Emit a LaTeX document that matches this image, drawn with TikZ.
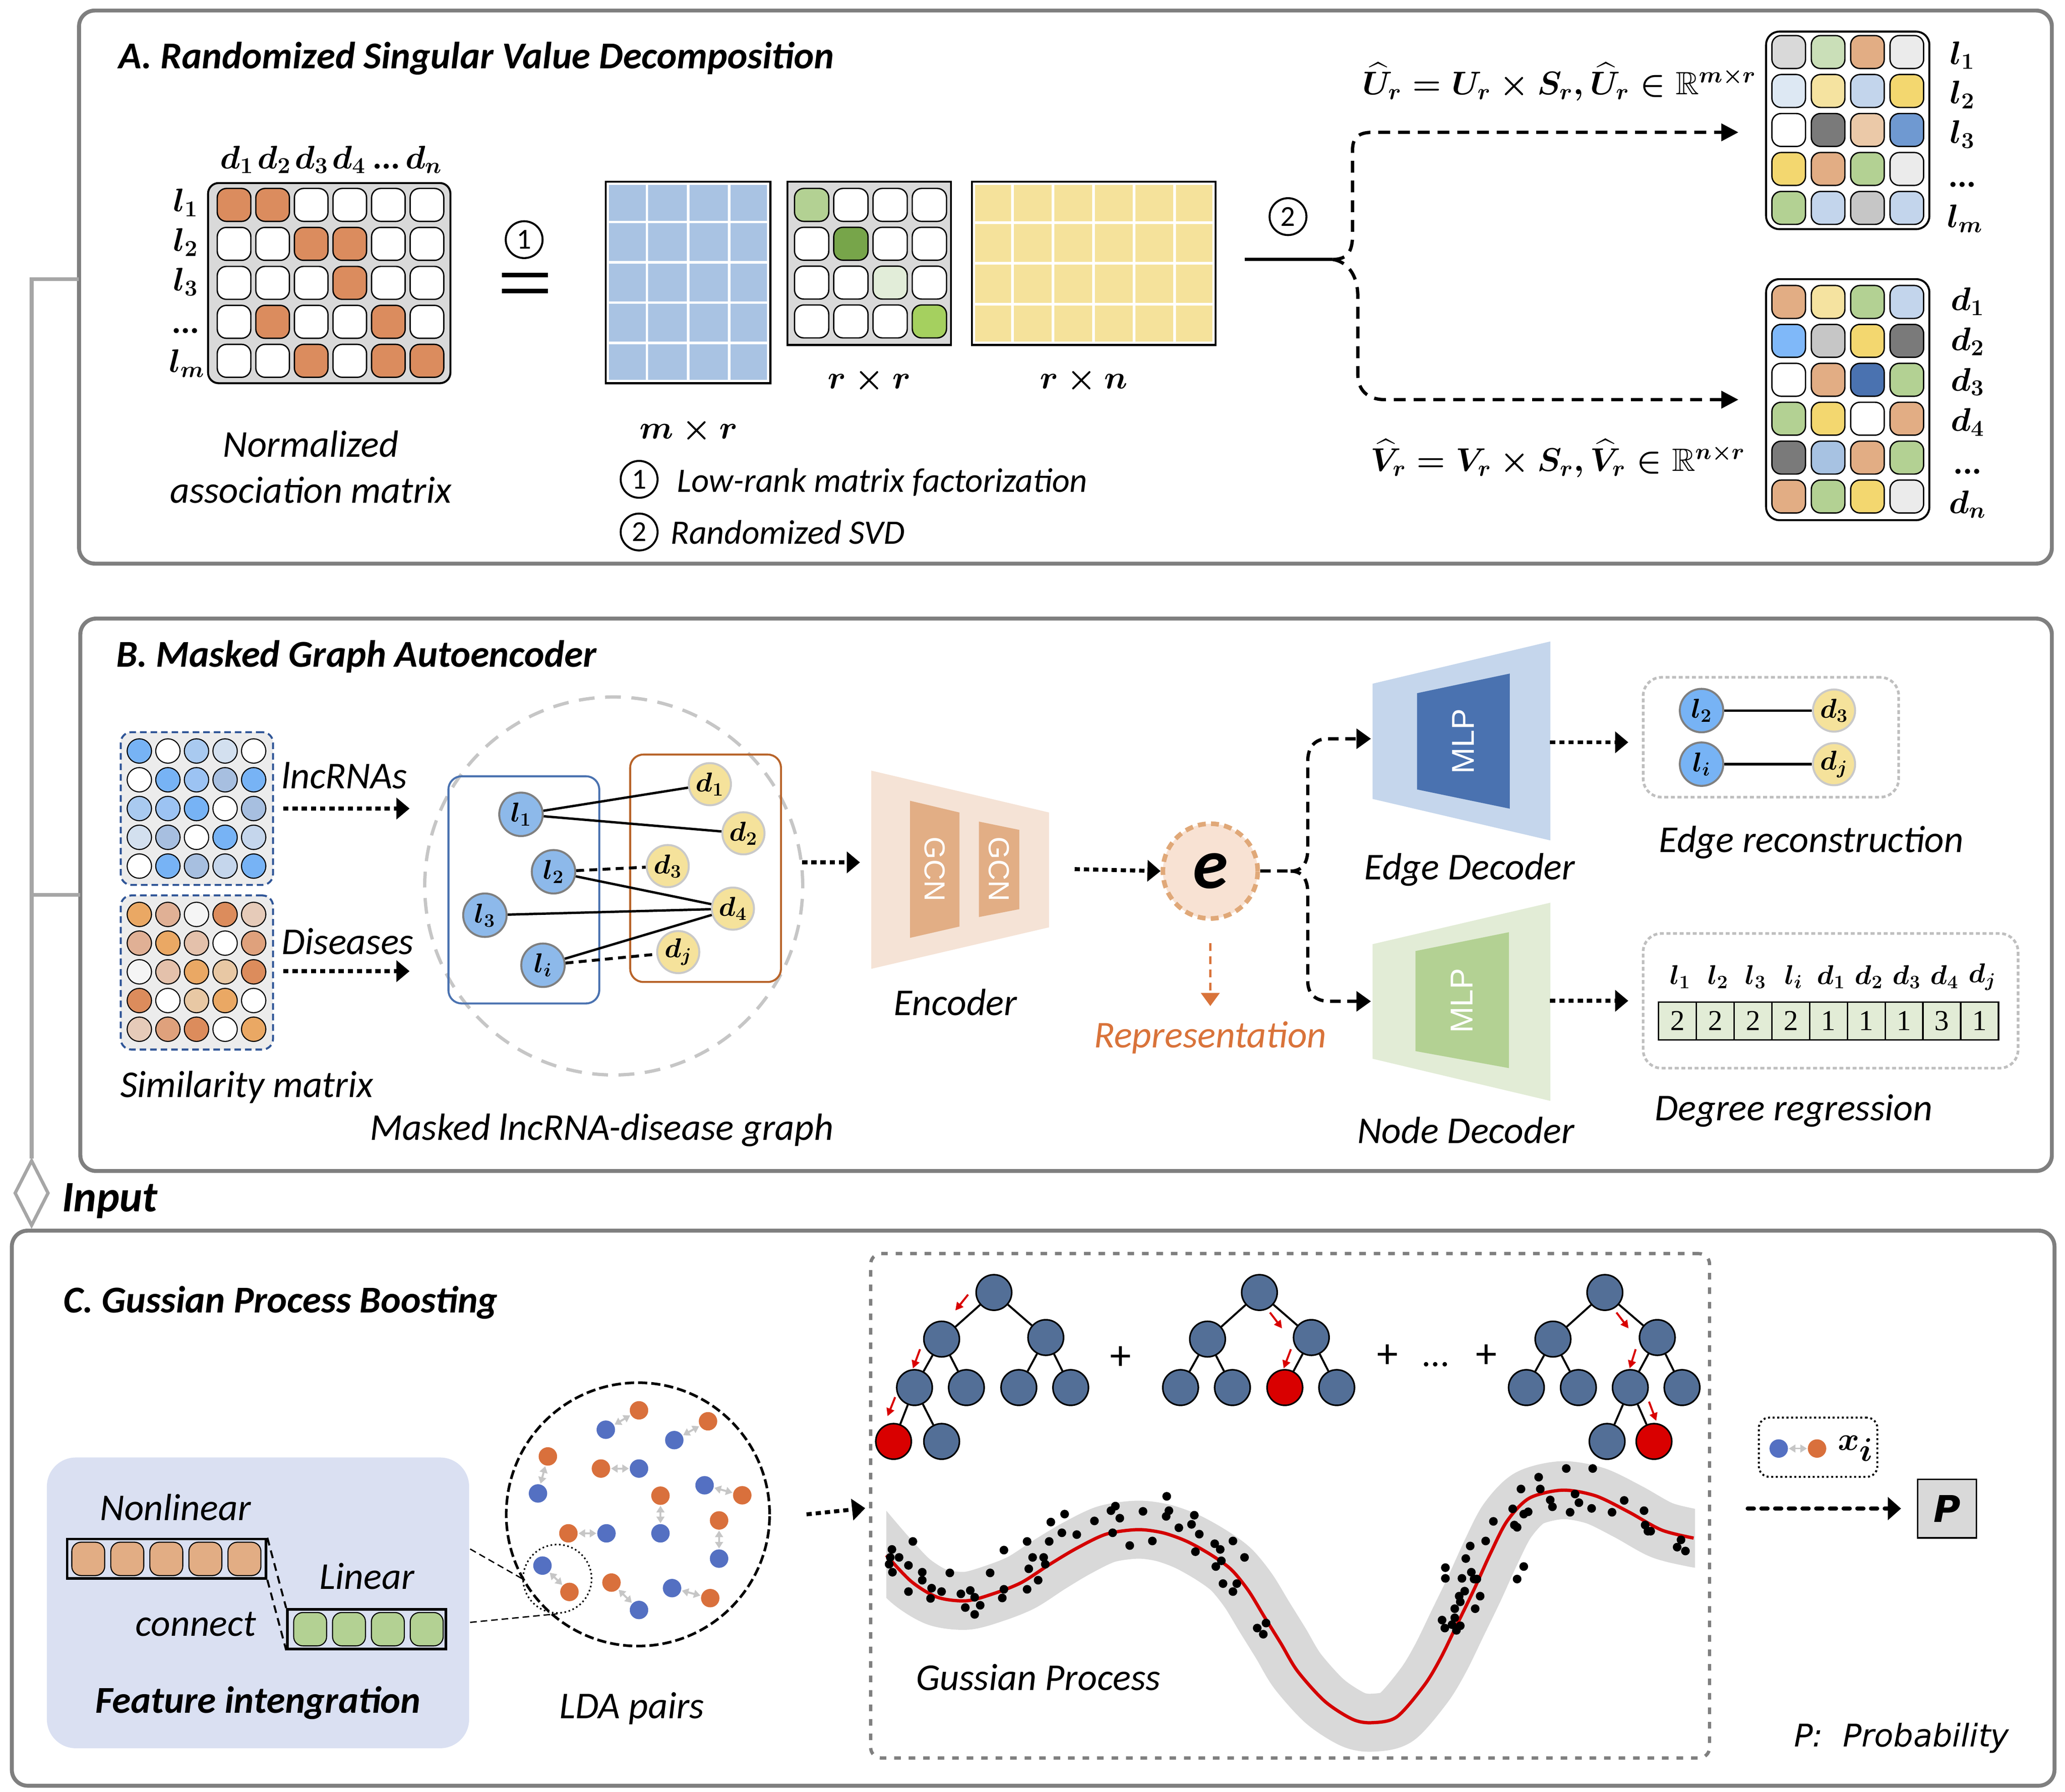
\documentclass[tikz,border=0pt]{standalone}
\usepackage{amsmath,amssymb}
\usepackage{fontspec}
\setmainfont{Carlito}
\newfontfamily\lsans{Liberation Sans}
\newfontfamily\lserif{Liberation Serif}
\newfontfamily\dvs{DejaVu Sans}
\usetikzlibrary{arrows.meta,shapes.geometric,calc}
\newcommand\myfs[1]{\fontsize{#1}{#1}\selectfont}
\newcommand\bdots{{\bfseries ...}}
\definecolor{pbord}{HTML}{7F7F7F}
\definecolor{conn}{HTML}{A6A6A6}
\definecolor{orA}{HTML}{DB8C5E}
\definecolor{bluU}{HTML}{A9C3E3}
\definecolor{yelV}{HTML}{F5E29B}
\definecolor{grS}{HTML}{D9D9D9}
\definecolor{sg1}{HTML}{B3D193}
\definecolor{sg2}{HTML}{77A54A}
\definecolor{sg3}{HTML}{E2EDD9}
\definecolor{sg4}{HTML}{A5D05F}
\definecolor{mLg}{HTML}{D9D9D9}
\definecolor{mGa}{HTML}{CADFB8}
\definecolor{mTan}{HTML}{E2AD84}
\definecolor{mVlg}{HTML}{EBEBEB}
\definecolor{mVlb}{HTML}{DDE8F3}
\definecolor{mLy}{HTML}{F5E3A0}
\definecolor{mLb}{HTML}{C3D5EC}
\definecolor{mYe}{HTML}{F3D76F}
\definecolor{mDg}{HTML}{7A7A7A}
\definecolor{mPe}{HTML}{EBC9A8}
\definecolor{mBl}{HTML}{6F99D1}
\definecolor{mGr}{HTML}{B3D193}
\definecolor{mGy}{HTML}{C6C6C6}
\definecolor{mBb}{HTML}{7FB8F9}
\definecolor{mDb}{HTML}{4A72B0}
\definecolor{mSb}{HTML}{A7C2E2}
\definecolor{sBa}{HTML}{77B3F5}
\definecolor{sBb}{HTML}{A9CAF0}
\definecolor{sBc}{HTML}{D3E0EF}
\definecolor{sBd}{HTML}{9CC3F3}
\definecolor{sBe}{HTML}{A7BFE0}
\definecolor{sBf}{HTML}{C5D6EC}
\definecolor{sOa}{HTML}{EAA864}
\definecolor{sOb}{HTML}{E0B095}
\definecolor{sOc}{HTML}{F5F5F5}
\definecolor{sOd}{HTML}{DC8C5C}
\definecolor{sOe}{HTML}{E6CBB9}
\definecolor{sOf}{HTML}{E4C1AB}
\definecolor{sOg}{HTML}{DFA17C}
\definecolor{sOh}{HTML}{E8C8A4}
\definecolor{lnf}{HTML}{8DB9EA}
\definecolor{lnb}{HTML}{7F7F7F}
\definecolor{dnf}{HTML}{F5E29B}
\definecolor{dnb}{HTML}{C9C9C9}
\definecolor{simb}{HTML}{2F5597}
\definecolor{lboxc}{HTML}{4A72B0}
\definecolor{dboxc}{HTML}{B8642A}
\definecolor{encbg}{HTML}{F5E3D6}
\definecolor{gcnc}{HTML}{E2AE85}
\definecolor{edbg}{HTML}{C5D6EC}
\definecolor{edin}{HTML}{4A72B0}
\definecolor{ndbg}{HTML}{E2ECD6}
\definecolor{ndin}{HTML}{B3D193}
\definecolor{efill}{HTML}{F8E2D3}
\definecolor{ebord}{HTML}{E0A878}
\definecolor{repc}{HTML}{D9733A}
\definecolor{dgray}{HTML}{BFBFBF}
\definecolor{fboxc}{HTML}{DAE0F2}
\definecolor{pblue}{HTML}{5470C2}
\definecolor{porange}{HTML}{D9703C}
\definecolor{treec}{HTML}{536F97}
\definecolor{treer}{HTML}{D90000}
\definecolor{gpband}{HTML}{D9D9D9}
\definecolor{gpred}{HTML}{D40000}
\begin{document}
\begin{tikzpicture}[x=1pt,y=-1pt,
 panel/.style={draw=pbord,line width=3pt,rounded corners=12pt,inner sep=0,outer sep=0},
 lbl/.style={font=\myfs{28.8}\itshape,inner sep=0},
 leg/.style={font=\myfs{26}\itshape,inner sep=0,anchor=west},
 ttl/.style={font=\myfs{28.8}\bfseries\itshape,anchor=west,inner sep=0},
 mlab/.style={font=\myfs{26}\boldmath,inner sep=0},
 acell/.style={draw=black,line width=1pt,rounded corners=7pt,minimum width=25.5pt,minimum height=25pt,inner sep=0},
 circnum/.style={circle,draw=black,line width=1.5pt,minimum size=28pt,inner sep=0,font=\myfs{22}},
 scell/.style={circle,draw=black,line width=0.8pt,minimum size=18.5pt,inner sep=0},
 lnode/.style={circle,draw=lnb,fill=lnf,line width=1.5pt,minimum size=33pt,inner sep=0,font=\myfs{21}\boldmath},
 dnode/.style={circle,draw=dnb,fill=dnf,line width=1.5pt,minimum size=32pt,inner sep=0,font=\myfs{21}\boldmath},
 tnode/.style={circle,draw=black,line width=1.2pt,fill=treec,minimum size=27pt,inner sep=0},
 rnode/.style={tnode,fill=treer},
 bdot/.style={circle,fill=pblue,minimum size=14pt,inner sep=0},
 odot/.style={circle,fill=porange,minimum size=14pt,inner sep=0},
 dotarr/.style={line width=3pt,dash pattern=on 4pt off 3pt,-{Triangle[length=10pt,width=16pt]}},
 dasharr/.style={line width=2.5pt,dash pattern=on 9pt off 6pt,-{Triangle[length=13pt,width=13pt]}},
 edarr/.style={line width=2.5pt,dash pattern=on 8pt off 5pt,-{Triangle[length=11pt,width=15pt]}},
 edgeln/.style={line width=1.8pt},
 edgedash/.style={line width=2.2pt,dash pattern=on 6pt off 4pt},
 dbox/.style={draw=dgray,dash pattern=on 3pt off 2pt,line width=2pt,rounded corners=14pt,inner sep=0},
 dcell/.style={draw=black,line width=1.2pt,fill=ndbg,minimum width=28.68pt,minimum height=28.6pt,inner sep=0,font=\lserif\myfs{22}},
 fcell/.style={draw=black,line width=0.8pt,rounded corners=7pt,minimum width=25pt,minimum height=25.3pt,inner sep=0},
 redarr/.style={draw=treer,line width=1.5pt,-{Triangle[length=6pt,width=6pt]}},
 pairarr/.style={draw=gray!45,line width=1.5pt,{Triangle[length=5pt,width=6pt]}-{Triangle[length=5pt,width=6pt]},shorten <=0.5pt,shorten >=0.5pt},
 gtxt/.style={text=white,font=\lsans\myfs{22},inner sep=0}
]
\useasboundingbox (0,0) rectangle (1568,1360.8);

% ---------- panels ----------
\node[panel,minimum width=1498pt,minimum height=420pt] (pA) at (809,218) {};
\node[panel,minimum width=1497pt,minimum height=419.5pt] (pB) at (809.5,679.5) {};
\node[panel,minimum width=1551pt,minimum height=421.5pt] (pC) at (784.5,1145.3) {};

% ---------- left connector ----------
\node[diamond,draw=conn,fill=white,line width=2.5pt,minimum width=26pt,minimum height=50pt,inner sep=0] (diam) at (24,906) {};
\coordinate (jA) at (60,212);
\draw[conn,line width=3pt] (jA) -| (diam.north);
\draw[conn,line width=3pt] (pB.west) -- (pB.west -| diam.north);
\node[font=\myfs{33}\bfseries\itshape,anchor=west,inner sep=0] (inp) at (47,912) {Input};

% ================= PANEL A =================
\node[ttl] (tA) at (90,44.5) {A. Randomized Singular Value Decomposition};

\node[draw=black,line width=1.5pt,fill=grS,rounded corners=8pt,minimum width=184pt,minimum height=152pt,inner sep=0] (assoc) at (250,215) {};
\foreach \cols [count=\r] in {{orA,orA,white,white,white,white},{white,white,orA,orA,white,white},{white,white,white,orA,white,white},{white,orA,white,white,orA,white},{white,white,orA,white,orA,orA}}
  \foreach \col [count=\c] in \cols
    \node[acell,fill=\col] (a-\r-\c) at ({177.7+29.3*(\c-1)},{155.6+29.6*(\r-1)}) {};
\node[mlab,anchor=base] (acl1) at (179.8,128) {$d_1$};
\node[mlab,anchor=base] (acl2) at (208.2,128) {$d_2$};
\node[mlab,anchor=base] (acl3) at (236.6,128) {$d_3$};
\node[mlab,anchor=base] (acl4) at (265,128) {$d_4$};
\node[mlab,anchor=base] (acl5) at (293.4,128) {\bdots};
\node[mlab,anchor=base] (acl6) at (321.8,128) {$d_n$};
\node[mlab] (arl1) at (141,154) {$l_1$};
\node[mlab] (arl2) at (141,184) {$l_2$};
\node[mlab] (arl3) at (141,214) {$l_3$};
\node[mlab,anchor=base] (arl4) at (141,253) {\bdots};
\node[mlab] (arl5) at (142,276) {$l_m$};
\node[lbl,align=center,font=\fontsize{28.8}{35}\selectfont\itshape] (assoclab) at (236,354.5) {Normalized\\association matrix};

\node[circnum] (c1) at (398,182) {1};
\draw[line width=3.5pt] (381,209) -- (416,209);
\draw[line width=3.5pt] (381,221) -- (416,221);

% U matrix
\node[draw=black,line width=1.5pt,fill=white,minimum width=125pt,minimum height=153pt,inner sep=0] (Umat) at (522.5,214.5) {};
\fill[bluU] (462.5,140.5) rectangle (582.5,288.5);
\foreach \k in {1,2,3} \draw[white,line width=2pt] ({460+31.25*\k},140) -- ({460+31.25*\k},289);
\foreach \k in {1,...,4} \draw[white,line width=2pt] (462,{138+30.6*\k}) -- (583,{138+30.6*\k});
\node[mlab] (lmr) at (523,327) {$m\times r$};

% S matrix
\node[draw=black,line width=1.5pt,fill=grS,minimum width=124pt,minimum height=124pt,inner sep=0] (Smat) at (660,200) {};
\foreach \cols [count=\r] in {{sg1,white,white,white},{white,sg2,white,white},{white,white,sg3,white},{white,white,white,sg4}}
  \foreach \col [count=\c] in \cols
    \node[acell,fill=\col,minimum width=26pt] (s-\r-\c) at ({616.3+29.8*(\c-1)},{155.6+29.5*(\r-1)}) {};
\node[mlab] (lrr) at (660,289) {$r\times r$};

% V matrix
\node[draw=black,line width=1.5pt,fill=white,minimum width=185pt,minimum height=124pt,inner sep=0] (Vmat) at (830.5,200) {};
\fill[yelV] (740.5,140.5) rectangle (920.5,259.5);
\foreach \k in {1,...,5} \draw[white,line width=2pt] ({738+30.8*\k},140) -- ({738+30.8*\k},260);
\foreach \k in {1,2,3} \draw[white,line width=2pt] (740,{138+31*\k}) -- (921,{138+31*\k});
\node[mlab] (lrn) at (823,289) {$r\times n$};

% legend
\node[circnum] (lg1) at (485.3,364) {1};
\node[leg] (lgt1) at (514,366) {Low-rank matrix factorization};
\node[circnum] (lg2) at (485.3,404) {2};
\node[leg] (lgt2) at (509,404) {Randomized SVD};

% randomized svd branch
\node[circnum] (c2) at (978,164.5) {2};
\coordinate (sA0) at (945,197);
\coordinate (splitA) at (1012,197);
\coordinate (tU) at (1320,100.5);
\coordinate (tV) at (1320,303.5);
\draw[line width=2.5pt] (sA0) -- (splitA);
\draw[dasharr] (splitA) .. controls (1024,197) and (1027,190) .. (1027,178) -- (1027,114) .. controls (1027,105) and (1031,100.5) .. (1042,100.5) -- (tU);
\draw[dasharr] (splitA) .. controls (1024,199) and (1031,210) .. (1031,225) -- (1031,284) .. controls (1031,296) and (1038,303.5) .. (1052,303.5) -- (tV);

\node[mlab,font=\myfs{24.5}\boldmath] (fU) at (1184,62) {$\widehat{U}_r=U_r\times S_r,\widehat{U}_r\in\mathbb{R}^{m\times r}$};
\node[mlab,font=\myfs{24.5}\boldmath] (fV) at (1183,348) {$\widehat{V}_r=V_r\times S_r,\widehat{V}_r\in\mathbb{R}^{n\times r}$};

\node[draw=black,line width=1.5pt,fill=white,rounded corners=10pt,minimum width=124pt,minimum height=150pt,inner sep=0] (Ur) at (1403,99) {};
\foreach \cols [count=\r] in {{mLg,mGa,mTan,mVlg},{mVlb,mLy,mLb,mYe},{white,mDg,mPe,mBl},{mYe,mTan,mGr,mVlg},{mGr,mLb,mGy,mLb}}
  \foreach \col [count=\c] in \cols
    \node[acell,fill=\col] (u-\r-\c) at ({1358.2+29.9*(\c-1)},{39.5+29.6*(\r-1)}) {};
\node[mlab] (url1) at (1490,42) {$l_1$};
\node[mlab] (url2) at (1490,72) {$l_2$};
\node[mlab] (url3) at (1490,102) {$l_3$};
\node[mlab,anchor=base] (url4) at (1490,142) {\bdots};
\node[mlab] (url5) at (1492,166) {$l_m$};

\node[draw=black,line width=1.5pt,fill=white,rounded corners=10pt,minimum width=124pt,minimum height=183pt,inner sep=0] (Vr) at (1403,303.5) {};
\foreach \cols [count=\r] in {{mTan,mLy,mGr,mLb},{mBb,mGy,mYe,mDg},{white,mTan,mDb,mGr},{mGr,mYe,white,mTan},{mDg,mSb,mTan,mGr},{mTan,mGr,mYe,mVlg}}
  \foreach \col [count=\c] in \cols
    \node[acell,fill=\col] (v-\r-\c) at ({1358.2+29.9*(\c-1)},{229.3+29.55*(\r-1)}) {};
\node[mlab] (vrl1) at (1494,229) {$d_1$};
\node[mlab] (vrl2) at (1494,259.5) {$d_2$};
\node[mlab] (vrl3) at (1494,290) {$d_3$};
\node[mlab] (vrl4) at (1494,320.5) {$d_4$};
\node[mlab,anchor=base] (vrl5) at (1494,360) {\bdots};
\node[mlab] (vrl6) at (1494,383) {$d_n$};

% ================= PANEL B =================
\node[ttl] (tB) at (88,498.6) {B. Masked Graph Autoencoder};

\node[draw=simb,dash pattern=on 5pt off 3pt,line width=1.5pt,fill=gray!15,rounded corners=8pt,minimum width=115.6pt,minimum height=116pt,inner sep=0] (simL) at (149.5,614) {};
\foreach \cols [count=\r] in {{sBa,white,sBb,sBc,white},{white,sBa,sBd,sBe,sBa},{sBb,sBd,sBa,white,sBe},{sBc,sBe,white,sBa,sBf},{white,sBa,sBe,sBf,sBa}}
  \foreach \col [count=\c] in \cols
    \node[scell,fill=\col] (sl-\r-\c) at ({105.8+21.7*(\c-1)},{570.3+21.85*(\r-1)}) {};
\node[draw=simb,dash pattern=on 5pt off 3pt,line width=1.5pt,fill=gray!15,rounded corners=8pt,minimum width=115.6pt,minimum height=117pt,inner sep=0] (simD) at (149.5,738.5) {};
\foreach \cols [count=\r] in {{sOa,sOb,sOc,sOd,sOe},{sOb,sOa,sOf,white,sOg},{sOc,sOf,sOa,sOh,sOd},{sOd,white,sOh,sOa,white},{sOe,sOg,sOd,white,sOa}}
  \foreach \col [count=\c] in \cols
    \node[scell,fill=\col] (sd-\r-\c) at ({105.8+21.7*(\c-1)},{694.4+21.8*(\r-1)}) {};
\node[lbl] (tlnc) at (261.5,589) {lncRNAs};
\node[lbl] (tdis) at (264,715) {Diseases};
\coordinate (aL) at (311,614);
\coordinate (aD) at (311,737.5);
\draw[dotarr] ([xshift=7pt]simL.east) -- (aL);
\draw[dotarr] ([xshift=7pt]simD.east |- aD) -- (aD);
\node[lbl] (tsim) at (187.4,825.5) {Similarity matrix};

% graph
\node[circle,draw=gray!45,dash pattern=on 12pt off 8pt,line width=2.5pt,minimum size=287pt,inner sep=0] (gcirc) at (466,672.8) {};
\node[draw=lboxc,line width=1.5pt,rounded corners=10pt,minimum width=114.5pt,minimum height=172.5pt,inner sep=0] (lbox) at (397.75,675.75) {};
\node[draw=dboxc,line width=1.5pt,rounded corners=10pt,minimum width=114.5pt,minimum height=172.7pt,inner sep=0] (dbx) at (535.75,659.35) {};
\node[lnode] (l1) at (395.6,618.4) {$l_1$};
\node[lnode] (l2) at (420.3,662) {$l_2$};
\node[lnode] (l3) at (368.2,695) {$l_3$};
\node[lnode] (li) at (412.3,733) {$l_i$};
\node[dnode] (d1) at (539,595.5) {$d_1$};
\node[dnode] (d2) at (564.5,632.8) {$d_2$};
\node[dnode] (d3) at (507,657.7) {$d_3$};
\node[dnode] (d4) at (556.5,690) {$d_4$};
\node[dnode] (dj) at (515,723) {$d_j$};
\draw[edgeln] (l1) -- (d1);
\draw[edgeln] (l1) -- (d2);
\draw[edgedash] (l2) -- (d3);
\draw[edgeln] (l2) -- (d4);
\draw[edgeln] (l3) -- (d4);
\draw[edgeln] (li) -- (d4);
\draw[edgedash] (li) -- (dj);
\node[lbl] (tgraph) at (457,858.4) {Masked lncRNA-disease graph};
\coordinate (gA0) at (609,654.9);
\coordinate (gA1) at (653,654.9);
\draw[dotarr] (gA0) -- (gA1);

% encoder
\fill[encbg] (661.6,585.2) -- (796.6,617) -- (796.6,704.2) -- (661.6,735.7) -- cycle;
\fill[gcnc] (691,608.1) -- (728.5,617) -- (728.5,703.6) -- (691,712.2) -- cycle;
\fill[gcnc] (743.3,623.9) -- (774,630.2) -- (774,690.4) -- (743.3,696.4) -- cycle;
\node[gtxt,rotate=-90] (g1) at (709.7,660) {GCN};
\node[gtxt,rotate=-90] (g2) at (758.6,660) {GCN};
\node[lbl] (tenc) at (725.5,761) {Encoder};
\coordinate (eA0) at (816,660);
\node[circle,fill=efill,draw=ebord,dash pattern=on 6pt off 4pt,line width=3.5pt,minimum size=72pt,inner sep=0,font=\myfs{54}\bfseries\itshape] (e) at (919,661.5) {e};
\draw[dotarr] (eA0) -- (e.west);
\draw[draw=repc,line width=2pt,dash pattern=on 6pt off 4pt,-{Triangle[length=10pt,width=14pt]},repc] ($(e.south)+(0,17)$) -- (919,764);
\node[lbl,text=repc] (trep) at (919,788) {Representation};

% branches
\coordinate (eS) at (980,661.5);
\coordinate (eU) at (1041,561);
\coordinate (eN) at (1041,760.4);
\draw[line width=2.5pt,dash pattern=on 8pt off 5pt] (e.east) -- (eS);
\draw[edarr] (eS) .. controls (989,661.5) and (993,655) .. (993,645) -- (993,578) .. controls (993,568) and (998,561) .. (1008,561) -- (eU);
\draw[edarr] (eS) .. controls (989,661.5) and (993,668) .. (993,678) -- (993,745) .. controls (993,755) and (999,760.4) .. (1010,760.4) -- (eN);

% edge decoder
\fill[edbg] (1042.2,519.2) -- (1177.2,487.1) -- (1177.2,638.2) -- (1042.2,606.7) -- cycle;
\fill[edin] (1076,526.4) -- (1146.4,511.5) -- (1146.4,614.1) -- (1076,599.5) -- cycle;
\node[gtxt,rotate=90,font=\lsans\myfs{24}] (m1) at (1111,563) {MLP};
\node[lbl] (tedge) at (1116,660.6) {Edge Decoder};
% node decoder
\fill[ndbg] (1042.2,717) -- (1177.2,685.5) -- (1177.2,836) -- (1042.2,804) -- cycle;
\fill[ndin] (1074.8,722.2) -- (1145.8,707.9) -- (1145.8,811.1) -- (1074.8,798.2) -- cycle;
\node[gtxt,rotate=90,font=\lsans\myfs{24}] (m2) at (1110,760) {MLP};
\node[lbl] (tnode) at (1113,858.4) {Node Decoder};

\coordinate (oE0) at (1177,563.7);
\coordinate (oE1) at (1236.4,563.7);
\coordinate (oN0) at (1177,760);
\coordinate (oN1) at (1236.4,760);
\draw[dotarr] (oE0) -- (oE1);
\draw[dotarr] (oN0) -- (oN1);

% edge reconstruction
\node[dbox,minimum width=194pt,minimum height=91pt] (erbox) at (1344.7,559.85) {};
\node[lnode,fill=sBa] (el2) at (1292,539.6) {$l_2$};
\node[dnode] (ed3) at (1392.6,539.6) {$d_3$};
\node[lnode,fill=sBa] (eli) at (1292,580.3) {$l_i$};
\node[dnode] (edj) at (1392.6,580.3) {$d_j$};
\draw[edgeln] (el2) -- (ed3);
\draw[edgeln] (eli) -- (edj);
\node[lbl] (terec) at (1375.4,639.7) {Edge reconstruction};

% degree regression
\node[dbox,minimum width=284.7pt,minimum height=102.3pt] (dgbox) at (1390,760) {};
\foreach \v [count=\i] in {2,2,2,2,1,1,1,3,1}
  \node[dcell] (dc\i) at ({1259.4+28.68*(\i-0.5)},775.3) {\v};
\foreach \t [count=\i] in {l_1,l_2,l_3,l_i,d_1,d_2,d_3,d_4,d_j}
  \node[font=\myfs{20}\boldmath,inner sep=0] (dgl\i) at ({1259.4+28.68*(\i-0.5)+2},742) {$\t$};
\node[lbl] (tdeg) at (1362,843.5) {Degree regression};

% ================= PANEL C =================
\node[ttl] (tC) at (48,989.3) {C. Gussian Process Boosting};

\node[fill=fboxc,rounded corners=22pt,minimum width=320.6pt,minimum height=220.8pt,inner sep=0] (fbox) at (195.9,1217.2) {};
\node[lbl] (tnl) at (133.2,1144.8) {Nonlinear};
\node[draw=black,line width=2pt,minimum width=151pt,minimum height=30pt,inner sep=0] (obar) at (126.5,1183.75) {};
\foreach \c in {1,...,5}
  \node[fcell,fill=mTan] (ob\c) at ({67+29.65*(\c-1)},1183.8) {};
\node[draw=black,line width=2pt,minimum width=120.3pt,minimum height=30.1pt,inner sep=0] (gbar) at (278.45,1237.15) {};
\foreach \c in {1,...,4}
  \node[fcell,fill=mGr] (gb\c) at ({235.5+29.5*(\c-1)},1237.2) {};
\draw[line width=1.5pt,dash pattern=on 6pt off 4pt] (obar.north east) -- (gbar.north west);
\draw[line width=1.5pt,dash pattern=on 6pt off 4pt] (obar.south east) -- (gbar.south west);
\node[lbl] (tlin) at (278.6,1196.8) {Linear};
\node[lbl] (tcon) at (148.7,1233.3) {connect};
\node[lbl,font=\myfs{28.8}\bfseries\itshape] (tfeat) at (196,1293.2) {Feature intengration};

% LDA pairs
\node[circle,draw=black,dash pattern=on 7pt off 3pt,line width=2pt,minimum size=200pt,inner sep=0] (lda) at (484.4,1150) {};
\node[circle,draw=black,dotted,line width=1.2pt,minimum size=52pt,inner sep=0] (ldaz) at (423.2,1198.9) {};
\coordinate (zl0) at (357,1176.3);
\coordinate (zl1) at (357,1232);
\draw[line width=1pt,dash pattern=on 5pt off 3pt] (zl0) -- (ldaz.west);
\draw[line width=1pt,dash pattern=on 5pt off 3pt] (zl1) -- (ldaz.south);
\foreach \bx/\by/\ox/\oy [count=\i] in {460/1085.7/485.2/1071, 512/1093.6/537.6/1079.3, 408.5/1134.1/416/1106, 485.2/1115.2/456.3/1115.2, 535/1127.9/563.6/1135.5, 501.5/1164.4/501.5/1135.8, 460.5/1164.4/431.6/1164.4, 546/1183.6/546/1154.6, 411.9/1188.9/432.4/1208.9, 485.2/1222.6/464.3/1201.8, 510.3/1206/539.3/1213.6}
{
  \node[bdot] (pb\i) at (\bx,\by) {};
  \node[odot] (po\i) at (\ox,\oy) {};
  \draw[pairarr] (pb\i) -- (po\i);
}
\node[lbl] (tlda) at (479.8,1297.4) {LDA pairs};
\coordinate (lA1) at (657,1145.3);
\draw[dotarr] ([xshift=27pt]lda.east) -- (lA1);

% GP box
\node[draw=pbord,line width=2.5pt,dash pattern=on 5pt off 6pt,rounded corners=8pt,minimum width=637pt,minimum height=383pt,inner sep=0] (gpb) at (979.6,1143.5) {};

% tree 1
\node[tnode] (t1r) at (754.7,981.5) {};
\node[tnode] (t1a) at (715,1016.9) {};
\node[tnode] (t1b) at (794.1,1015.7) {};
\node[tnode] (t1c) at (694.4,1053.7) {};
\node[tnode] (t1d) at (733.8,1053.7) {};
\node[tnode] (t1e) at (773.6,1053.7) {};
\node[tnode] (t1f) at (813,1053.7) {};
\node[rnode] (t1g) at (678.5,1094.6) {};
\node[tnode] (t1h) at (715,1094.6) {};
\foreach \p/\q in {t1r/t1a,t1r/t1b,t1a/t1c,t1a/t1d,t1b/t1e,t1b/t1f,t1c/t1g,t1c/t1h}
  \draw[line width=1.5pt] (\p) -- (\q);
\draw[redarr] (735.1,983.1) -- (725.4,995.2);
\draw[redarr] (698.6,1024.6) -- (693.2,1039.2);
\draw[redarr] (679.7,1061) -- (673.9,1075.5);
\node[font=\myfs{32},inner sep=0] (plus1) at (851,1031.3) {+};

% tree 2
\node[tnode] (t2r) at (956.3,981.5) {};
\node[tnode] (t2a) at (916.9,1016.9) {};
\node[tnode] (t2b) at (995.7,1015.7) {};
\node[tnode] (t2c) at (896.4,1053.7) {};
\node[tnode] (t2d) at (935.8,1053.7) {};
\node[rnode] (t2e) at (975.6,1053.7) {};
\node[tnode] (t2f) at (1015,1053.7) {};
\foreach \p/\q in {t2r/t2a,t2r/t2b,t2a/t2c,t2a/t2d,t2b/t2e,t2b/t2f}
  \draw[line width=1.5pt] (\p) -- (\q);
\draw[redarr] (964.3,996.7) -- (973.5,1008.8);
\draw[redarr] (980.2,1024.6) -- (974.7,1039.2);
\node[font=\myfs{32},inner sep=0] (plus2) at (1053.5,1030) {+};
\node[font=\myfs{28},inner sep=0] (tdots) at (1090,1036) {...};
\node[font=\myfs{32},inner sep=0] (plus3) at (1128.5,1030) {+};

% tree 3
\node[tnode] (t3r) at (1218.6,981.5) {};
\node[tnode] (t3a) at (1179.2,1016.9) {};
\node[tnode] (t3b) at (1258.4,1015.7) {};
\node[tnode] (t3c) at (1159,1053.7) {};
\node[tnode] (t3d) at (1198.5,1053.7) {};
\node[tnode] (t3e) at (1237.9,1053.7) {};
\node[tnode] (t3f) at (1277.2,1053.7) {};
\node[tnode] (t3g) at (1220.3,1094.6) {};
\node[rnode] (t3h) at (1255.9,1094.6) {};
\foreach \p/\q in {t3r/t3a,t3r/t3b,t3a/t3c,t3a/t3d,t3b/t3e,t3b/t3f,t3e/t3g,t3e/t3h}
  \draw[line width=1.5pt] (\p) -- (\q);
\draw[redarr] (1227.4,996.7) -- (1236.6,1008.8);
\draw[redarr] (1242,1024.6) -- (1237.4,1039.2);
\draw[redarr] (1252.1,1064.4) -- (1257.6,1079);

% GP curve
\begin{scope}
\clip (673,1100) rectangle (1287,1340);
\draw[gpband,line width=44pt] plot[smooth,tension=0.5] coordinates {(655,1160) (673,1181) (692,1201) (712,1213) (734,1215.6) (755,1210) (775.7,1201.7) (797,1188) (817.6,1175.7) (840,1165) (863.7,1161.6) (883,1164) (901.4,1170.6) (920,1181) (935,1192) (948,1208) (960,1227.7) (972.6,1248) (985.2,1269) (1006,1292) (1027,1305.6) (1041.8,1308.2) (1060.6,1303.8) (1081.6,1279.6) (1094.1,1258.8) (1106.7,1232.9) (1119.3,1206.9) (1131.9,1179.2) (1144.4,1155) (1161.2,1137.7) (1186.3,1131.6) (1211.5,1135.9) (1236.6,1148.1) (1261.7,1161.9) (1286,1168) (1300,1170)};
\end{scope}
\draw[gpred,line width=2.5pt] plot[smooth,tension=0.5] coordinates {(673,1181) (692,1201) (712,1213) (734,1215.6) (755,1210) (775.7,1201.7) (797,1188) (817.6,1175.7) (840,1165) (863.7,1161.6) (883,1164) (901.4,1170.6) (920,1181) (935,1192) (948,1208) (960,1227.7) (972.6,1248) (985.2,1269) (1006,1292) (1027,1305.6) (1041.8,1308.2) (1060.6,1303.8) (1081.6,1279.6) (1094.1,1258.8) (1106.7,1232.9) (1119.3,1206.9) (1131.9,1179.2) (1144.4,1155) (1161.2,1137.7) (1186.3,1131.6) (1211.5,1135.9) (1236.6,1148.1) (1261.7,1161.9) (1286,1168)};
\foreach \a/\b in {65/505,62/540,78/540,60/570,95/575,66/605,103/470,95/690,120/605,120/640,137/675,155/690,135/720,170/608,190/700,207/685,198/760,215/715,225/750,215/790,243/608,268/508,268/680,265/718,310/470,313/590,320/540,310/680,330/640,340/540,343/570,350/470,353/385,378/350,373/432,400/440,432/380,462/335,470/315,478/368,465/432,496/488,520/338,537/468,563/272,567/335,562/360,585/410,613/355,608/395,622/438,615/515,650/480,660/505,662/555,652/580,683/468,704/540,665/655,690/655,683/690,727/850,743/828,738/877,1068/585,1068/632,1098/632,1105/545,1113/490,1115/605,1120/635,1125/635,1103/688,1093/710,1095/735,1131/710,1085/765,1122/765,1085/805,1062/815,1067/850,1080/835,1095/840,1088/860,1141/468,1155/382,1190/327,1193/398,1198/408,1210/350,1218/340,1205/240,1237/188,1240/240,1210/580,1198/635,1258/288,1262/318,1287/150,1294/342,1303/262,1310/300,1335/150,1333/325,1370/342,1392/290,1428/335,1430/398,1435/425,1440/425,1495/463,1488/495,1503/512}
  \fill ({650+0.419*\a},{1089.2+0.1731*\b}) circle (3.3pt);
\node[lbl] (tgp) at (788.3,1273.6) {Gussian Process};

% output
\node[draw=black,dotted,line width=1.5pt,rounded corners=8pt,minimum width=90pt,minimum height=45pt,inner sep=0] (xbox) at (1380.5,1099) {};
\node[bdot] (xb) at (1350.6,1100) {};
\node[odot] (xo) at (1379.7,1100) {};
\draw[pairarr,line width=1pt] (xb) -- (xo);
\node[font=\myfs{34}\boldmath,inner sep=0] (xi) at (1409,1100) {$x_i$};
\node[draw=black,line width=1.2pt,fill=grS,minimum width=44.6pt,minimum height=44.5pt,inner sep=0,font=\dvs\myfs{28}\bfseries\itshape] (Pb) at (1478.4,1145.6) {P};
\coordinate (pA0) at (1327,1145.6);
\draw[line width=3pt,line cap=round,dash pattern=on 4.8pt off 5.6pt,-{Triangle[length=10pt,width=17pt]}] (pA0) -- ([xshift=-12pt]Pb.west);
\node[font=\dvs\myfs{23.7}\itshape,inner sep=0] (tprob) at (1444,1320) {P:\ \ Probability};
\end{tikzpicture}
\end{document}
